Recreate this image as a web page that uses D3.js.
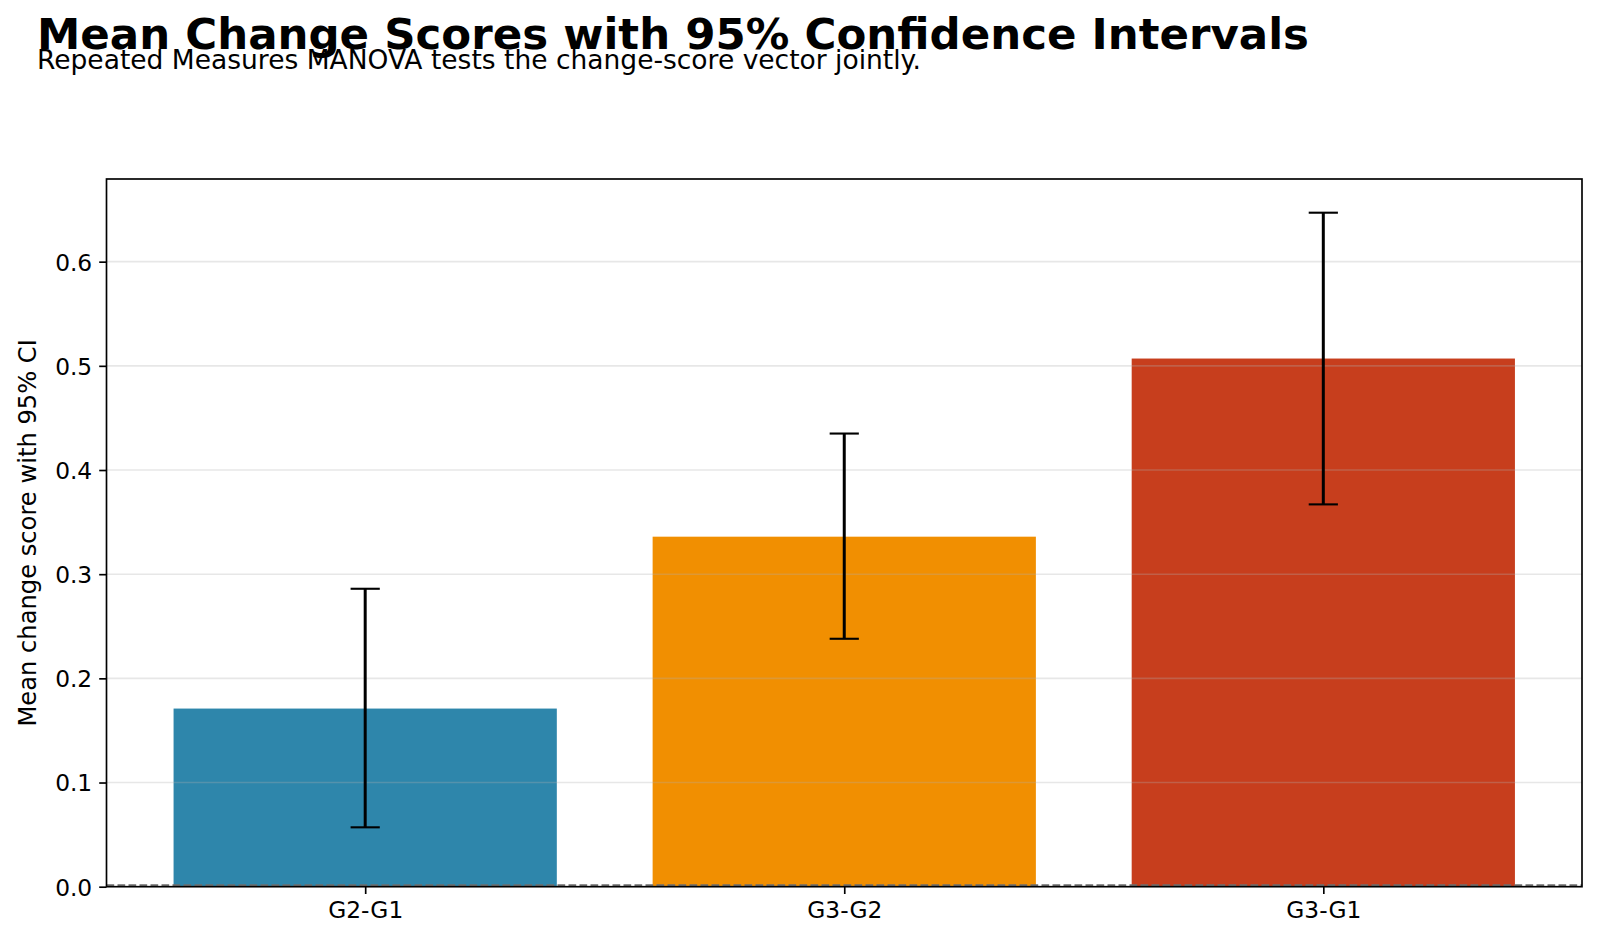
<!DOCTYPE html>
<html>
<head>
<meta charset="utf-8">
<script src="https://cdn.jsdelivr.net/npm/d3@7"></script>
<style>
  html, body { margin: 0; padding: 0; background: #fff; }
  svg { display: block; font-family: "DejaVu Sans", sans-serif; }
</style>
</head>
<body>
<svg id="chart" width="1600" height="946"></svg>
<script>
const categories = ["G2-G1", "G3-G2", "G3-G1"];
const means = [0.171, 0.336, 0.507];
const ciLower = [0.057, 0.238, 0.367];
const ciUpper = [0.286, 0.435, 0.647];
const barColors = ["#2E86AB", "#F18F01", "#C73E1D"];
const yTicks = [0.0, 0.1, 0.2, 0.3, 0.4, 0.5, 0.6];
const titleText = "Mean Change Scores with 95% Confidence Intervals";
const subtitleText = "Repeated Measures MANOVA tests the change-score vector jointly.";
const yLabelText = "Mean change score with 95% CI";

const svg = d3.select("#chart");
const plot = { left: 106.5, right: 1582, top: 179, bottom: 886.7 };

// x: linear over bar index, matplotlib-style margins
const x = d3.scaleLinear().domain([-0.54, 2.54]).range([plot.left, plot.right]);
const barWidth = 0.8;
const yMax = d3.max(ciUpper) * 1.05;
const y = d3.scaleLinear().domain([0, yMax]).range([plot.bottom, plot.top]);

// bars
svg.append("g").selectAll("rect").data(categories).join("rect")
  .attr("x", (d, i) => x(i - barWidth / 2))
  .attr("width", (d, i) => x(i + barWidth / 2) - x(i - barWidth / 2))
  .attr("y", (d, i) => y(means[i]))
  .attr("height", (d, i) => y(0) - y(means[i]))
  .attr("fill", (d, i) => barColors[i]);

// grid (above bars)
svg.append("g").selectAll("line").data(yTicks.filter(t => t > 0)).join("line")
  .attr("x1", plot.left).attr("x2", plot.right)
  .attr("y1", d => y(d)).attr("y2", d => y(d))
  .attr("stroke", "#b0b0b0").attr("stroke-opacity", 0.3).attr("stroke-width", 1.6);

// zero dashed line
svg.append("line")
  .attr("x1", plot.left).attr("x2", plot.right)
  .attr("y1", y(0) - 1.3).attr("y2", y(0) - 1.3)
  .attr("stroke", "#6e6e6e").attr("stroke-width", 2.1)
  .attr("stroke-dasharray", "7.7,3.3");

// error bars
const eb = svg.append("g");
categories.forEach((c, i) => {
  const cx = x(i);
  eb.append("line").attr("x1", cx).attr("x2", cx)
    .attr("y1", y(ciLower[i])).attr("y2", y(ciUpper[i]))
    .attr("stroke", "#000").attr("stroke-width", 3);
  [ciLower[i], ciUpper[i]].forEach(v => {
    eb.append("line").attr("x1", cx - 14.6).attr("x2", cx + 14.6)
      .attr("y1", y(v)).attr("y2", y(v))
      .attr("stroke", "#000").attr("stroke-width", 2.1);
  });
});

// frame
svg.append("rect")
  .attr("x", plot.left).attr("y", plot.top)
  .attr("width", plot.right - plot.left).attr("height", plot.bottom - plot.top)
  .attr("fill", "none").attr("stroke", "#000").attr("stroke-width", 1.67);

// y axis ticks
const yAxis = d3.axisLeft(y).tickValues(yTicks).tickFormat(d3.format(".1f"))
  .tickSize(7.3).tickPadding(7);
const gy = svg.append("g").attr("transform", `translate(${plot.left},0)`).call(yAxis);
gy.select(".domain").remove();
gy.selectAll(".tick line").attr("stroke", "#000").attr("stroke-width", 1.67);
gy.selectAll(".tick text").attr("font-size", 23.3).attr("fill", "#000")
  .attr("font-family", "DejaVu Sans").attr("dy", "0.36em");

// x axis ticks
const xAxis = d3.axisBottom(x).tickValues(categories.map((c, i) => i))
  .tickFormat(i => categories[i]).tickSize(7.3).tickPadding(7);
const gx = svg.append("g").attr("transform", `translate(0,${plot.bottom})`).call(xAxis);
gx.select(".domain").remove();
gx.selectAll(".tick line").attr("stroke", "#000").attr("stroke-width", 1.67);
gx.selectAll(".tick text").attr("font-size", 23.3).attr("fill", "#000")
  .attr("font-family", "DejaVu Sans");

// y label
svg.append("text")
  .attr("transform", `translate(36,${(plot.top + plot.bottom) / 2}) rotate(-90)`)
  .attr("text-anchor", "middle").attr("font-size", 24.2).attr("fill", "#000")
  .text(yLabelText);

// title + subtitle
svg.append("text").attr("x", 37).attr("y", 49)
  .attr("font-size", 43.5).attr("font-weight", "bold").attr("fill", "#000")
  .text(titleText);
svg.append("text").attr("x", 37).attr("y", 69)
  .attr("font-size", 26.5).attr("fill", "#000")
  .text(subtitleText);
</script>
</body>
</html>
